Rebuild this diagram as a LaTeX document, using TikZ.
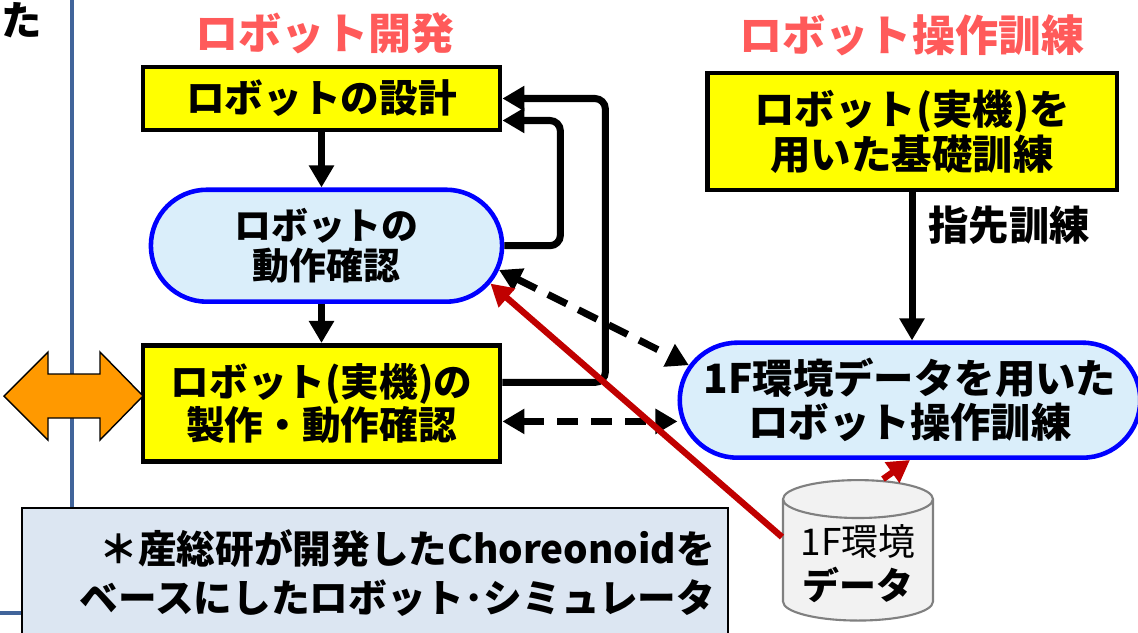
\documentclass[tikz,border=0pt]{standalone}
\usepackage{fontspec}
\setmainfont{Noto Sans CJK JP}
\usepackage{xcolor}
\definecolor{boxyellow}{HTML}{FFFF00}
\definecolor{lightcyan}{HTML}{DAEEFA}
\definecolor{linkblue}{HTML}{0000FF}
\definecolor{titlered}{HTML}{FF5A5A}
\definecolor{datared}{HTML}{C00000}
\definecolor{arrorange}{HTML}{FF9900}
\definecolor{notebg}{HTML}{DCE6F2}
\definecolor{rulecol}{HTML}{41649A}
\definecolor{dbgray}{HTML}{F2F2F2}
\usetikzlibrary{positioning,arrows.meta,shapes.misc,shapes.geometric}

\begin{document}
\begin{tikzpicture}[
  x=0.02cm, y=-0.02cm,
  ybox/.style={draw, line width=2.8pt, fill=boxyellow, align=center,
               font=\bfseries\fontsize{22}{22.5}\selectfont},
  cbox/.style={rounded rectangle, draw=linkblue, line width=2.6pt, fill=lightcyan,
               align=center, font=\bfseries\fontsize{21}{23}\selectfont},
  ttl/.style={text=titlered, font=\bfseries\fontsize{24.5}{27}\selectfont},
  arr/.style={-{Triangle[length=0.44cm, width=0.48cm]}, line width=4pt},
  darr/.style={{Triangle[length=0.44cm, width=0.48cm]}-{Triangle[length=0.44cm, width=0.48cm]},
               line width=4pt, dash pattern=on 0.42cm off 0.26cm},
  rarr/.style={-{Triangle[length=0.44cm, width=0.48cm]}, line width=3.6pt, color=datared},
  rule/.style={line width=2.2pt, color=rulecol}
]
  \useasboundingbox (0,0) rectangle (1138,632);

  \node[anchor=east, font=\bfseries\fontsize{23}{24}\selectfont] (cut) at (48,20) {いた};

  \node[ttl] (dev) at (325,33) {ロボット開発};
  \node[ttl] (ops) at (912,35) {ロボット操作訓練};

  \node[ybox, minimum width=7.14cm, minimum height=1.26cm] (D) at (321.5,98.5) {ロボットの設計};
  \node[cbox, minimum width=7.26cm, minimum height=2.24cm, below=1.1cm of D, xshift=0.1cm] (C) {ロボットの\\動作確認};
  \node[ybox, minimum width=7.14cm, minimum height=2.32cm, below=0.78cm of C, xshift=-0.1cm] (M) {ロボット(実機)の\\製作・動作確認};

  \node[ybox, font=\bfseries\fontsize{23}{24}\selectfont, minimum width=8.2cm, minimum height=2.34cm] (B) at (912,131.5) {ロボット(実機)を\\用いた基礎訓練};
  \node[cbox, font=\bfseries\fontsize{23}{25}\selectfont, minimum width=9cm, minimum height=2.3cm, below=2.96cm of B, xshift=-0.04cm] (T) {1F環境データを用いた\\ロボット操作訓練};

  \node[cylinder, shape border rotate=90, aspect=0.3, draw=gray, line width=1.2pt, fill=dbgray,
        minimum width=3cm, minimum height=2.46cm, align=center,
        font=\fontsize{21}{25}\selectfont] (E) at (858,564) {1F環境\\\textbf{データ}};

  \node[draw, line width=0.8pt, fill=notebg, minimum width=14.12cm, minimum height=2.6cm,
        text width=13.6cm, inner xsep=0.26cm, align=right,
        font=\bfseries\fontsize{22}{28}\selectfont] (N) at (375,573)
        {＊産総研が開発したChoreonoidを\\ベースにしたロボット･シミュレータ};

  % frame rules
  \draw[rule] (72,0) -- (72,0 |- N.north);
  \draw[rule] (0,613) -- (0,613 -| N.west);

  \draw[fill=arrorange, line width=0.8pt] (4,396) -- (48,352) -- (48,374) -- (100,374) -- (100,352)
    -- (143,396) -- (100,440) -- (100,418) -- (48,418) -- (48,440) -- cycle;

  \draw[arr] (D.south) -- (D.south |- C.north);
  \draw[arr] (C.south -| D.south) -- (M.north);
  \draw[arr, rounded corners=6pt] (C.east) -| ([xshift=1.16cm, yshift=-0.44cm]D.east) -- ([yshift=-0.44cm]D.east);
  \draw[arr, rounded corners=6pt] ([yshift=0.42cm]M.east) -| ([xshift=2.06cm]D.east) -- (D.east);
  \draw[arr] (B.south) -- node[pos=0.22, right=0.26cm, inner sep=0, font=\bfseries\fontsize{23}{25}\selectfont] (fing) {指先訓練} (T.north -| B.south);

  \draw[darr] (C.-8) -- (T.171);
  \draw[darr] ([yshift=-0.36cm]M.east) -- ([yshift=-0.36cm]M.east -| T.west);

  \draw[rarr] ([yshift=0.54cm]E.west) -- (C.-13);
  \draw[rarr] ([xshift=0.5cm]E.north) -- (T.south);
\end{tikzpicture}
\end{document}
